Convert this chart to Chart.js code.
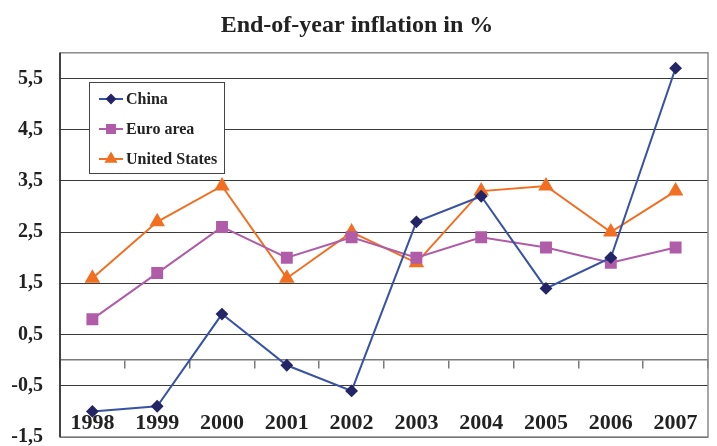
<!DOCTYPE html>
<html>
<head>
<meta charset="utf-8">
<script src="https://cdn.jsdelivr.net/npm/chart.js@4/dist/chart.umd.min.js"></script>
<style>
  html, body { margin: 0; padding: 0; background: #fff; overflow: hidden; }
  canvas { display: block; }
</style>
</head>
<body>
<canvas id="myChart" width="717" height="446"></canvas>
<script>
const years = ['1998', '1999', '2000', '2001', '2002', '2003', '2004', '2005', '2006', '2007'];
const china = [-1.0, -0.9, 0.9, -0.1, -0.6, 2.7, 3.2, 1.4, 2.0, 5.7];
const euroArea = [0.8, 1.7, 2.6, 2.0, 2.4, 2.0, 2.4, 2.2, 1.9, 2.2];
const unitedStates = [1.6, 2.7, 3.4, 1.6, 2.5, 1.9, 3.3, 3.4, 2.5, 3.3];
const yTicks = [-1.5, -0.5, 0.5, 1.5, 2.5, 3.5, 4.5, 5.5];

const serif = '"Liberation Serif", "Times New Roman", serif';

// grey frame round the plot area, dark left axis line
const framePlugin = {
  id: 'frame',
  beforeDatasetsDraw(chart) {
    const { ctx, chartArea: a } = chart;
    ctx.save();
    ctx.strokeStyle = '#8a8a8a';
    ctx.lineWidth = 1.5;
    ctx.strokeRect(a.left, a.top, a.right - a.left, a.bottom - a.top);
    ctx.strokeStyle = '#222';
    ctx.beginPath();
    ctx.moveTo(a.left, a.top);
    ctx.lineTo(a.left, a.bottom);
    ctx.stroke();
    ctx.restore();
  }
};

// legend box inside the plot
const boxLegend = {
  id: 'boxLegend',
  afterDraw(chart) {
    const { ctx } = chart;
    const x = 89, y = 82, w = 135, h = 91;
    ctx.save();
    ctx.fillStyle = '#fff';
    ctx.fillRect(x, y, w, h);
    ctx.strokeStyle = '#444';
    ctx.lineWidth = 1;
    ctx.strokeRect(x + 0.5, y + 0.5, w, h);
    chart.data.datasets.forEach((ds, i) => {
      const cy = y + 17 + i * 30;
      ctx.strokeStyle = ds.borderColor;
      ctx.lineWidth = 2;
      ctx.beginPath();
      ctx.moveTo(x + 10, cy);
      ctx.lineTo(x + 34, cy);
      ctx.stroke();
      ctx.fillStyle = ds.pointBackgroundColor;
      ctx.strokeStyle = ds.pointBorderColor;
      Chart.helpers.drawPoint(ctx, {
        pointStyle: ds.pointStyle,
        radius: ds.pointRadius * 0.8,
        borderWidth: 1
      }, x + 22, cy);
      ctx.font = 'bold 16px ' + serif;
      ctx.fillStyle = '#222';
      ctx.textBaseline = 'middle';
      ctx.fillText(ds.label, x + 37, cy + 1);
    });
    ctx.restore();
  }
};

const ctx = document.getElementById('myChart').getContext('2d');
new Chart(ctx, {
  type: 'line',
  data: {
    labels: years,
    datasets: [
      {
        label: 'China',
        data: china,
        borderColor: '#3953a4',
        borderWidth: 2,
        pointStyle: 'rectRot',
        pointRadius: 5,
        pointBackgroundColor: '#232566',
        pointBorderColor: '#232566',
        tension: 0
      },
      {
        label: 'Euro area',
        data: euroArea,
        borderColor: '#b05ca8',
        borderWidth: 2,
        pointStyle: 'rect',
        pointRadius: 7,
        pointBackgroundColor: '#b05ca8',
        pointBorderColor: '#b05ca8',
        tension: 0
      },
      {
        label: 'United States',
        data: unitedStates,
        borderColor: '#f26f22',
        borderWidth: 2,
        pointStyle: 'triangle',
        pointRadius: 7,
        pointBackgroundColor: '#f26f22',
        pointBorderColor: '#f26f22',
        tension: 0
      }
    ]
  },
  options: {
    responsive: false,
    animation: false,
    layout: { padding: { right: 3 } },
    scales: {
      y: {
        min: -1.5,
        max: 6,
        afterBuildTicks: (scale) => { scale.ticks = yTicks.map(v => ({ value: v })); },
        afterFit: (scale) => { scale.width = 60; },
        ticks: {
          callback: (value) => String(value).replace('.', ','),
          font: { family: serif, size: 20, weight: 'bold', lineHeight: 0.9 },
          color: '#222',
          padding: 0
        },
        grid: {
          color: '#3a3a3a',
          lineWidth: 1,
          drawTicks: true,
          tickLength: 17,
          tickColor: 'rgba(0,0,0,0)'
        },
        border: { display: false }
      },
      x: {
        position: { y: 0 },
        offset: true,
        ticks: {
          font: { family: serif, size: 22, weight: 'bold', lineHeight: 5 },
          color: '#222',
          padding: 0,
          maxRotation: 0,
          autoSkip: false
        },
        grid: {
          offset: true,
          drawOnChartArea: false,
          drawTicks: true,
          tickLength: 8,
          color: '#7a7a7a',
          lineWidth: 1.5
        },
        border: { display: true, color: '#7a7a7a', width: 1.5 }
      }
    },
    plugins: {
      legend: { display: false },
      tooltip: { enabled: false },
      title: {
        display: true,
        text: 'End-of-year inflation in %',
        font: { family: serif, size: 24, weight: 'bold' },
        color: '#222',
        padding: { top: 11, bottom: 13 }
      }
    }
  },
  plugins: [framePlugin, boxLegend]
});
</script>
</body>
</html>
